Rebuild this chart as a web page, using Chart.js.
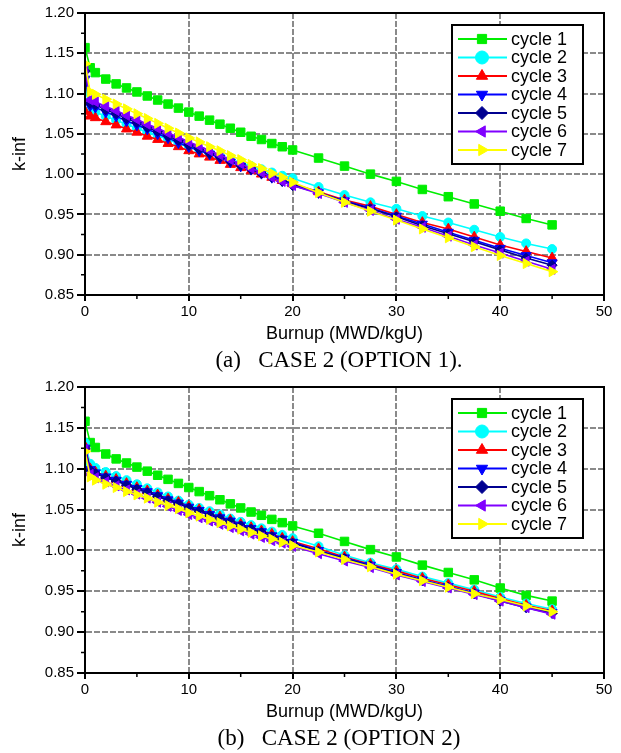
<!DOCTYPE html>
<html>
<head>
<meta charset="utf-8">
<script src="https://cdn.jsdelivr.net/npm/chart.js@4.4.1/dist/chart.umd.min.js"></script>
<style>
  body { margin: 0; background: #fff; width: 621px; height: 753px; position: relative; overflow: hidden; }
  .wrap { position: absolute; left: 0; width: 621px; }
  .cap { position: absolute; left: 0; width: 678px; text-align: center; white-space: pre;
         font-family: "Liberation Serif", "Times New Roman", serif; font-size: 23px; line-height: 26px; color: #000; }
</style>
</head>
<body>
<div class="wrap" style="top:0"><canvas id="chartA" width="621" height="348"></canvas></div>
<div class="cap" style="top:347px">(a)   CASE 2 (OPTION 1).</div>
<div class="wrap" style="top:374px"><canvas id="chartB" width="621" height="352"></canvas></div>
<div class="cap" style="top:725px">(b)   CASE 2 (OPTION 2)</div>
<script>
// burnup steps (MWD/kgU)
const burnup = [0, 0.5, 1, 2, 3, 4, 5, 6, 7, 8, 9, 10, 11, 12, 13, 14, 15, 16, 17, 18, 19, 20,
                22.5, 25, 27.5, 30, 32.5, 35, 37.5, 40, 42.5, 45];

const cycleNames = ['cycle 1', 'cycle 2', 'cycle 3', 'cycle 4', 'cycle 5', 'cycle 6', 'cycle 7'];

// (a) option 1
const opt1Cycle1 = [1.157,1.132,1.126,1.118,1.112,1.107,1.102,1.097,1.092,1.087,1.082,1.077,1.072,1.067,1.062,1.057,1.052,1.047,1.043,1.038,1.034,1.030,1.020,1.010,1.000,0.991,0.981,0.972,0.963,0.954,0.945,0.937];
const opt1Cycle2 = [1.108,1.080,1.077,1.072,1.067,1.062,1.057,1.052,1.048,1.043,1.038,1.034,1.030,1.026,1.022,1.018,1.014,1.010,1.006,1.002,0.998,0.995,0.984,0.974,0.965,0.957,0.948,0.940,0.931,0.922,0.914,0.907];
const opt1Cycle3 = [1.078,1.072,1.070,1.065,1.061,1.056,1.052,1.047,1.043,1.038,1.034,1.029,1.025,1.021,1.017,1.012,1.008,1.004,1.000,0.996,0.992,0.988,0.978,0.968,0.960,0.950,0.940,0.932,0.922,0.912,0.904,0.896];
const opt1Cycle4 = [1.118,1.085,1.083,1.077,1.072,1.066,1.061,1.056,1.050,1.045,1.039,1.034,1.029,1.025,1.020,1.015,1.010,1.006,1.001,0.996,0.992,0.987,0.977,0.967,0.958,0.948,0.938,0.928,0.918,0.908,0.899,0.890];
const opt1Cycle5 = [1.128,1.088,1.086,1.080,1.075,1.069,1.064,1.058,1.053,1.047,1.042,1.036,1.031,1.026,1.021,1.016,1.011,1.006,1.001,0.996,0.991,0.986,0.977,0.966,0.957,0.947,0.936,0.926,0.916,0.906,0.896,0.887];
const opt1Cycle6 = [1.130,1.092,1.090,1.084,1.079,1.073,1.068,1.062,1.057,1.051,1.046,1.040,1.035,1.029,1.024,1.018,1.013,1.007,1.002,0.996,0.991,0.986,0.976,0.965,0.955,0.944,0.934,0.923,0.912,0.902,0.892,0.882];
const opt1Cycle7 = [1.137,1.102,1.099,1.093,1.087,1.081,1.075,1.069,1.063,1.057,1.051,1.045,1.040,1.034,1.029,1.023,1.018,1.012,1.007,1.001,0.996,0.990,0.977,0.965,0.954,0.943,0.932,0.921,0.910,0.899,0.889,0.879];

// (b) option 2
const opt2Cycle1 = [1.158,1.132,1.126,1.118,1.112,1.107,1.102,1.097,1.092,1.087,1.082,1.077,1.072,1.067,1.062,1.057,1.052,1.047,1.043,1.038,1.034,1.030,1.021,1.011,1.001,0.992,0.982,0.973,0.964,0.954,0.945,0.938];
const opt2Cycle2 = [1.132,1.106,1.101,1.096,1.091,1.086,1.081,1.076,1.071,1.066,1.061,1.056,1.052,1.048,1.044,1.039,1.035,1.031,1.027,1.023,1.019,1.015,1.005,0.994,0.985,0.977,0.968,0.960,0.952,0.943,0.935,0.928];
const opt2Cycle3 = [1.127,1.100,1.096,1.091,1.087,1.082,1.077,1.073,1.068,1.063,1.059,1.054,1.050,1.045,1.041,1.037,1.032,1.028,1.024,1.020,1.015,1.011,1.002,0.992,0.983,0.975,0.966,0.958,0.950,0.941,0.933,0.926];
const opt2Cycle4 = [1.125,1.099,1.095,1.090,1.086,1.081,1.076,1.072,1.067,1.062,1.058,1.053,1.049,1.044,1.040,1.036,1.031,1.027,1.023,1.018,1.014,1.010,1.000,0.991,0.982,0.973,0.964,0.956,0.948,0.939,0.931,0.924];
const opt2Cycle5 = [1.125,1.098,1.094,1.089,1.085,1.080,1.075,1.071,1.066,1.061,1.057,1.052,1.048,1.043,1.039,1.035,1.030,1.026,1.022,1.017,1.013,1.009,0.999,0.990,0.981,0.972,0.963,0.955,0.947,0.938,0.930,0.923];
const opt2Cycle6 = [1.124,1.093,1.089,1.084,1.079,1.074,1.069,1.064,1.059,1.054,1.049,1.044,1.040,1.036,1.032,1.028,1.024,1.020,1.016,1.012,1.009,1.005,0.996,0.987,0.979,0.970,0.962,0.954,0.946,0.938,0.930,0.922];
const opt2Cycle7 = [1.121,1.090,1.086,1.081,1.077,1.072,1.068,1.064,1.059,1.055,1.051,1.046,1.042,1.038,1.034,1.030,1.026,1.022,1.018,1.014,1.010,1.006,0.998,0.989,0.980,0.971,0.963,0.955,0.947,0.940,0.932,0.925];

const xMinor = [5, 15, 25, 35, 45];
const yMinor = [0.875, 0.925, 0.975, 1.025, 1.075, 1.125, 1.175];

const lineColors = ['#00ee00', '#00ffff', '#ff0000', '#0000ff', '#000090', '#8000ff', '#ffff00'];
const markerStyles = ['rect', 'circle', 'triangle', 'triangle', 'rectRot', 'triangle', 'triangle'];
const markerTurns = [0, 0, 0, 180, 0, 270, 90];
const markerSizes = [6, 4.5, 5.8, 5.8, 5, 5.8, 5.8];

const sans = '"Liberation Sans", Arial, sans-serif';

// minor ticks + closed frame round the plot
const frameTicks = {
    id: 'frameTicks',
    afterDraw(chart) {
        const {ctx, chartArea: a, scales: {x, y}} = chart;
        ctx.save();
        ctx.strokeStyle = '#000';
        ctx.lineWidth = 1.5;
        ctx.beginPath();
        xMinor.forEach(v => {
            const px = x.getPixelForValue(v);
            ctx.moveTo(px, a.bottom);
            ctx.lineTo(px, a.bottom + 4);
        });
        yMinor.forEach(v => {
            const py = y.getPixelForValue(v);
            ctx.moveTo(a.left, py);
            ctx.lineTo(a.left - 4, py);
        });
        ctx.stroke();
        ctx.lineWidth = 2;
        ctx.strokeRect(a.left, a.top, a.right - a.left, a.bottom - a.top);
        ctx.restore();
    }
};

// boxed legend inside the upper right corner
const boxLegend = {
    id: 'boxLegend',
    afterDraw(chart) {
        const {ctx, chartArea: a} = chart;
        const bx = a.right - 152, by = a.top + 12, bw = 131, bh = 139;
        ctx.save();
        ctx.fillStyle = '#fff';
        ctx.fillRect(bx, by, bw, bh);
        ctx.lineWidth = 2;
        ctx.strokeStyle = '#000';
        ctx.strokeRect(bx, by, bw, bh);
        ctx.font = '18px ' + sans;
        ctx.textBaseline = 'middle';
        chart.data.datasets.forEach((ds, i) => {
            const cy = by + 14 + i * 18.5;
            ctx.strokeStyle = ds.borderColor;
            ctx.lineWidth = 2;
            ctx.beginPath();
            ctx.moveTo(bx + 6, cy);
            ctx.lineTo(bx + 55, cy);
            ctx.stroke();
            ctx.fillStyle = ds.backgroundColor;
            ctx.lineWidth = 1;
            Chart.helpers.drawPoint(ctx, {pointStyle: ds.pointStyle, rotation: ds.pointRotation, radius: 6.5, borderWidth: 1}, bx + 30, cy);
            ctx.fillStyle = '#000';
            ctx.fillText(ds.label, bx + 59, cy + 1);
        });
        ctx.restore();
    }
};

function buildChart(id, series) {
    const datasets = series.map((vals, i) => ({
        label: cycleNames[i],
        data: vals.map((v, j) => ({x: burnup[j], y: v})),
        borderColor: lineColors[i],
        backgroundColor: lineColors[i],
        borderWidth: 1.6,
        pointStyle: markerStyles[i],
        pointRotation: markerTurns[i],
        pointRadius: markerSizes[i],
        pointBorderWidth: 1,
        pointBackgroundColor: lineColors[i],
        pointBorderColor: lineColors[i],
        order: series.length - 1 - i
    }));

    return new Chart(document.getElementById(id), {
        type: 'line',
        data: {datasets},
        options: {
            responsive: false,
            animation: false,
            events: [],
            layout: {padding: {top: 13, right: 17, left: 0, bottom: 0}},
            plugins: {legend: {display: false}, tooltip: {enabled: false}},
            scales: {
                x: {
                    type: 'linear',
                    min: 0,
                    max: 50,
                    afterFit: s => { s.height = 53; },
                    ticks: {stepSize: 10, color: '#000', font: {family: sans, size: 15}, padding: 2, maxRotation: 0},
                    grid: {color: '#8a8a8a', lineWidth: 2, tickColor: '#000', tickWidth: 2, tickLength: 6},
                    border: {color: '#000', width: 2, dash: [6, 2]},
                    title: {display: true, text: 'Burnup (MWD/kgU)', color: '#000', font: {family: sans, size: 18}, padding: {top: 0, bottom: 3}}
                },
                y: {
                    min: 0.85,
                    max: 1.20,
                    afterFit: s => { s.width = 85; },
                    ticks: {stepSize: 0.05, color: '#000', font: {family: sans, size: 15}, padding: 3,
                            callback: v => v.toFixed(2)},
                    grid: {color: '#8a8a8a', lineWidth: 2, tickColor: '#000', tickWidth: 2, tickLength: 8},
                    border: {color: '#000', width: 2, dash: [6, 2]},
                    title: {display: true, text: 'k-inf', color: '#000', font: {family: sans, size: 18}, padding: {top: 9, bottom: 0}}
                }
            }
        },
        plugins: [frameTicks, boxLegend]
    });
}

buildChart('chartA', [opt1Cycle1, opt1Cycle2, opt1Cycle3, opt1Cycle4, opt1Cycle5, opt1Cycle6, opt1Cycle7]);
buildChart('chartB', [opt2Cycle1, opt2Cycle2, opt2Cycle3, opt2Cycle4, opt2Cycle5, opt2Cycle6, opt2Cycle7]);
</script>
</body>
</html>
